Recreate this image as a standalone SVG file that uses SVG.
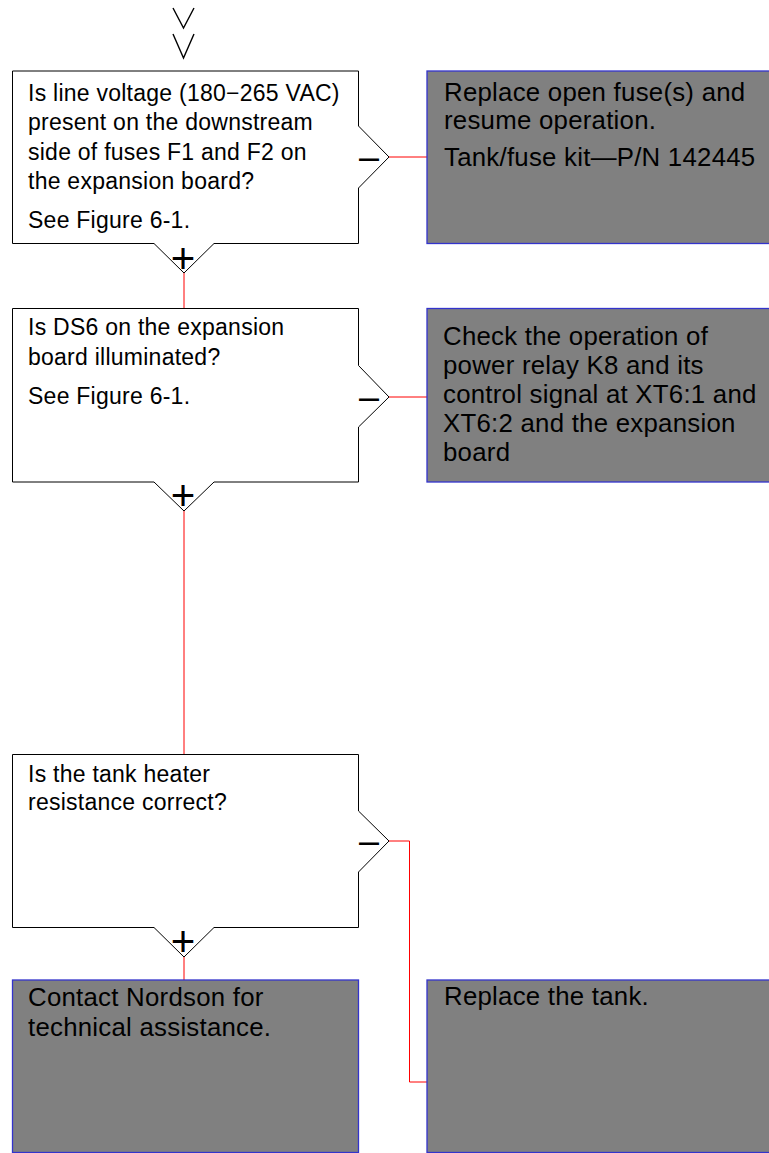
<svg xmlns="http://www.w3.org/2000/svg" width="769" height="1153" viewBox="0 0 769 1153">
<style>
.dec{fill:#fff;stroke:#000;stroke-width:1}
.act{fill:#808080;stroke:#3333cc;stroke-width:1.3}
.conn{fill:none;stroke:#f00;stroke-width:1}
.chev{fill:none;stroke:#000;stroke-width:1.4}
.dt{font-family:"Liberation Sans",Arial,sans-serif;font-size:23px;letter-spacing:0.25px;fill:#000}
.at{font-family:"Liberation Sans",Arial,sans-serif;font-size:25.8px;letter-spacing:0.25px;fill:#000}
.sg{font-family:"Liberation Sans",Arial,sans-serif;font-size:36px;fill:#000;text-anchor:middle}
.pl{font-family:"Liberation Sans",Arial,sans-serif;font-size:42px;fill:#000;text-anchor:middle}
</style>
<rect width="769" height="1153" fill="#fff"/>
<g id="connectors">
<polyline class="chev" points="173,8 183.5,28 194,8"/>
<polyline class="chev" points="173,34 183.5,58 194,34"/>
<line class="conn" x1="184" y1="273" x2="184" y2="308.5"/>
<line class="conn" x1="389" y1="157" x2="427" y2="157"/>
<line class="conn" x1="389" y1="397" x2="427" y2="397"/>
<line class="conn" x1="184" y1="511" x2="184" y2="754.5"/>
<polyline class="conn" points="389,841 409.5,841 409.5,1082 427,1082"/>
<line class="conn" x1="184" y1="957" x2="184" y2="980"/>
</g>
<g id="decision1">
<path class="dec" d="M12.5,71 H358.5 V126 L389,157 L358.5,188 V243.5 H214 L184,273 L154,243.5 H12.5 Z"/>
<text class="dt" x="28" y="100.5">Is line voltage (180−265 VAC)</text>
<text class="dt" x="28" y="130">present on the downstream</text>
<text class="dt" x="28" y="159.5">side of fuses F1 and F2 on</text>
<text class="dt" x="28" y="189">the expansion board?</text>
<text class="dt" x="28" y="227.5">See Figure 6-1.</text>
<text class="sg" x="369" y="169">–</text>
<text class="pl" x="183" y="272.5">+</text>
</g>
<g id="action1">
<rect class="act" x="427" y="71" width="350" height="172.5"/>
<text class="at" x="444" y="100.5">Replace open fuse(s) and</text>
<text class="at" x="444" y="128.5">resume operation.</text>
<text class="at" x="444" y="166">Tank/fuse kit—P/N 142445</text>
</g>
<g id="decision2">
<path class="dec" d="M12.5,308.5 H358.5 V365.5 L389,397 L358.5,427 V482 H214 L184,511 L154,482 H12.5 Z"/>
<text class="dt" x="28" y="335">Is DS6 on the expansion</text>
<text class="dt" x="28" y="364.5">board illuminated?</text>
<text class="dt" x="28" y="403.5">See Figure 6-1.</text>
<text class="sg" x="369" y="408.5">–</text>
<text class="pl" x="183" y="509.5">+</text>
</g>
<g id="action2">
<rect class="act" x="427" y="308.5" width="350" height="173.5"/>
<text class="at" x="443" y="345">Check the operation of</text>
<text class="at" x="443" y="374">power relay K8 and its</text>
<text class="at" x="443" y="403">control signal at XT6:1 and</text>
<text class="at" x="443" y="432">XT6:2 and the expansion</text>
<text class="at" x="443" y="461">board</text>
</g>
<g id="decision3">
<path class="dec" d="M12.5,754.5 H358.5 V811 L389,841 L358.5,872 V927.5 H214 L184,957 L154,927.5 H12.5 Z"/>
<text class="dt" x="28" y="781.5">Is the tank heater</text>
<text class="dt" x="28" y="810">resistance correct?</text>
<text class="sg" x="369" y="853">–</text>
<text class="pl" x="183" y="956">+</text>
</g>
<g id="action3">
<rect class="act" x="12.5" y="980" width="346" height="172.5"/>
<text class="at" x="28" y="1005.5">Contact Nordson for</text>
<text class="at" x="28" y="1036">technical assistance.</text>
</g>
<g id="action4">
<rect class="act" x="427" y="980" width="350" height="172.5"/>
<text class="at" x="444" y="1005">Replace the tank.</text>
</g>
</svg>
